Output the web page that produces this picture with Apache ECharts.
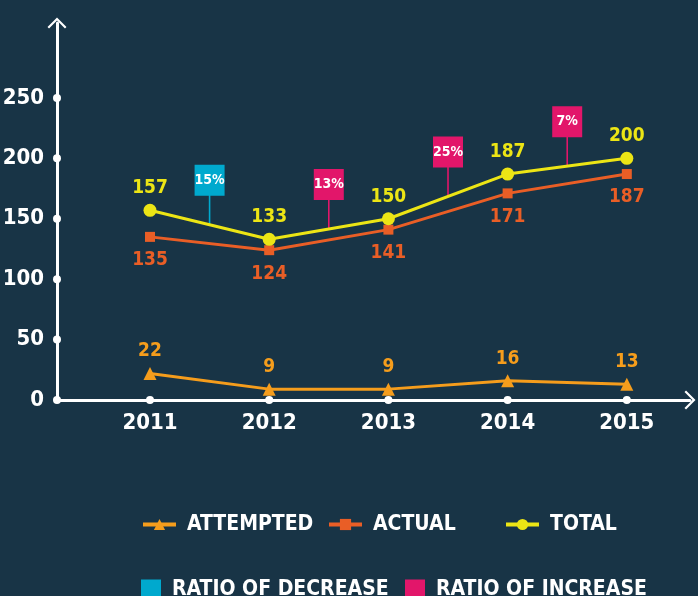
<!DOCTYPE html>
<html>
<head>
<meta charset="utf-8">
<script src="https://cdn.jsdelivr.net/npm/echarts@6/dist/echarts.min.js"></script>
<style>
  html, body { margin: 0; padding: 0; background: #183446; }
  #chart { width: 698px; height: 596px; }
</style>
</head>
<body>
<div id="chart"></div>
<script>
// --- data ---
const years = [2011, 2012, 2013, 2014, 2015];
const attempted = [22, 9, 9, 16, 13];
const actual = [135, 124, 141, 171, 187];
const total = [157, 133, 150, 187, 200];
const ratioLabels = ['15%', '13%', '25%', '7%'];
const ratioKinds = ['decrease', 'increase', 'increase', 'increase'];
const yTicks = [0, 50, 100, 150, 200, 250];

const FONT = "'DejaVu Sans Condensed', 'Liberation Sans Narrow', sans-serif";
const WHITE = '#ffffff';
const C_ATT = '#f59d1c';
const C_ACT = '#e95e26';
const C_TOT = '#ece515';
const C_DEC = '#00a9ce';
const C_INC = '#e2166a';

const X_MIN = 2010.22;
const X_MAX = 2015.53;

// open chevron pointing up, used for both axis ends
const chevron = 'path://M0,10 L10,0 L20,10 L18.4,11.6 L10,3.2 L1.6,11.6 Z';
// flag: box on top, thin stem down to the point
const flag = 'path://M0,0 L30,0 L30,31 L15.8,31 L15.8,60 L14.2,60 L14.2,31 L0,31 Z';

const pairs = (vals) => years.map((y, i) => [y, vals[i]]);

function ratioData(kind) {
  const out = [];
  ratioKinds.forEach((k, i) => {
    if (k !== kind) return;
    out.push([years[i] + 0.5, (total[i] + total[i + 1]) / 2, ratioLabels[i]]);
  });
  return out;
}

const axisDots = years.map((y) => [y, 0]).concat(yTicks.map((v) => [X_MIN, v]));

function lineSeries(name, vals, color, symbol, size, pos, dist) {
  return {
    name,
    type: 'line',
    data: pairs(vals),
    symbol,
    symbolSize: size,
    showAllSymbol: true,
    color,
    itemStyle: { color, opacity: 1 },
    lineStyle: { color, width: 3 },
    label: {
      show: true,
      position: pos,
      distance: dist,
      color,
      fontFamily: FONT,
      fontWeight: 'bold',
      fontSize: 19,
      formatter: (p) => p.value[1],
    },
    z: 4,
  };
}

function flagSeries(name, kind, color) {
  return {
    name,
    type: 'scatter',
    data: ratioData(kind),
    symbol: flag,
    symbolSize: [30, 60],
    symbolOffset: [0, -30],
    color,
    itemStyle: { color, opacity: 1 },
    clip: false,
    label: {
      show: true,
      position: ['50%', '26%'],
      align: 'center',
      verticalAlign: 'middle',
      color: WHITE,
      fontFamily: FONT,
      fontWeight: 'bold',
      fontSize: 14,
      formatter: (p) => p.value[2],
    },
    z: 3,
  };
}

const legendText = {
  color: WHITE,
  fontFamily: FONT,
  fontWeight: 'bold',
  fontSize: 21,
  padding: [0, 0, 0, 6],
};

function legendAt(name, left, top, opts) {
  return Object.assign({
    data: [name],
    left,
    top,
    padding: 0,
    selectedMode: false,
    itemWidth: 33,
    itemHeight: 14,
    lineStyle: { width: 4 },
    textStyle: legendText,
  }, opts || {});
}

const chart = echarts.init(document.getElementById('chart'));
chart.setOption({
  backgroundColor: '#183446',
  animation: false,
  grid: { left: 57, right: 8, top: 23, bottom: 196, outerBoundsMode: 'none', containLabel: false },
  xAxis: {
    type: 'value',
    min: X_MIN,
    max: X_MAX,
    splitLine: { show: false },
    axisTick: { show: false },
    axisLine: {
      show: true,
      onZero: false,
      symbol: ['none', chevron],
      symbolSize: [21, 11],
      lineStyle: { color: WHITE, width: 3 },
    },
    axisLabel: {
      customValues: years,
      formatter: (v) => String(v),
      color: WHITE,
      fontFamily: FONT,
      fontWeight: 'bold',
      fontSize: 22,
      margin: 12,
    },
  },
  yAxis: {
    type: 'value',
    min: 0,
    max: 312,
    splitLine: { show: false },
    axisTick: { show: false },
    axisLine: {
      show: true,
      onZero: false,
      symbol: ['none', chevron],
      symbolSize: [21, 11],
      lineStyle: { color: WHITE, width: 3 },
    },
    axisLabel: {
      customValues: yTicks,
      color: WHITE,
      fontFamily: FONT,
      fontWeight: 'bold',
      fontSize: 22,
      margin: 13,
    },
  },
  legend: [
    legendAt('ATTEMPTED', 141, 514),
    legendAt('ACTUAL', 327, 514),
    legendAt('TOTAL', 504, 514),
    legendAt('RATIO OF DECREASE', 141, 579, { itemWidth: 20, itemHeight: 20, icon: 'rect' }),
    legendAt('RATIO OF INCREASE', 405, 579, { itemWidth: 20, itemHeight: 20, icon: 'rect' }),
  ],
  series: [
    {
      name: 'axisDots',
      type: 'scatter',
      data: axisDots,
      symbol: 'circle',
      symbolSize: 8,
      itemStyle: { color: WHITE, opacity: 1 },
      clip: false,
      silent: true,
      z: 2,
    },
    flagSeries('RATIO OF DECREASE', 'decrease', C_DEC),
    flagSeries('RATIO OF INCREASE', 'increase', C_INC),
    lineSeries('ATTEMPTED', attempted, C_ATT, 'triangle', 13, 'top', 6),
    lineSeries('ACTUAL', actual, C_ACT, 'rect', 10, 'bottom', 9),
    lineSeries('TOTAL', total, C_TOT, 'circle', 13, 'top', 6),
  ],
});
</script>
</body>
</html>
